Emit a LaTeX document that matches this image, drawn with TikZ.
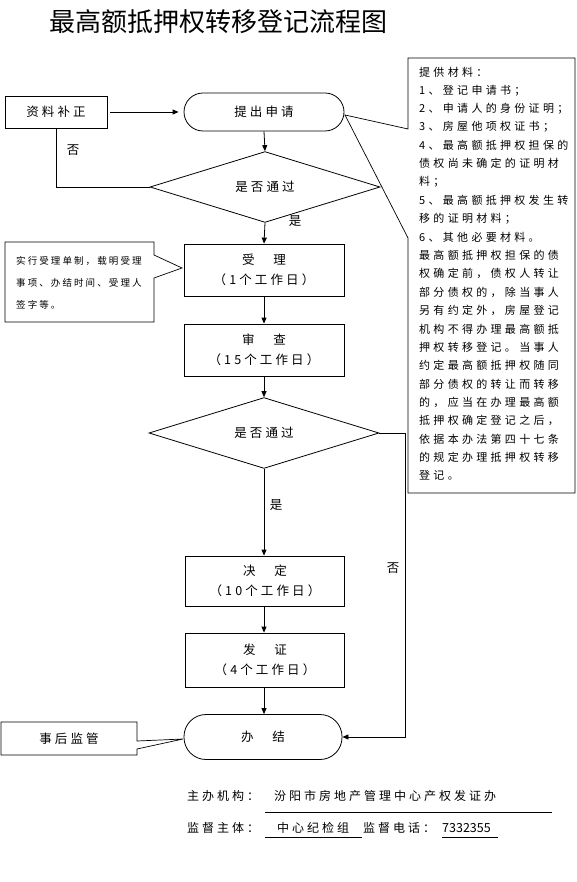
\documentclass[tikz,border=0pt]{standalone}
\usepackage{fontspec}
\setmainfont{Noto Sans CJK SC}
\newfontfamily\cjkT{Noto Sans CJK SC}
\newfontfamily\cjkB[LetterSpace=25]{Noto Sans CJK SC}
\newfontfamily\cjkR[LetterSpace=30]{Noto Sans CJK SC}
\newfontfamily\cjkL[LetterSpace=22]{Noto Sans CJK SC}
\usetikzlibrary{shapes.geometric,arrows.meta}
\newcommand{\boxfont}{\cjkB\fontsize{12.5}{20}\selectfont}
\newcommand{\rfont}{\cjkR\fontsize{11}{18}\selectfont}
\newcommand{\lfont}{\cjkL\fontsize{9.5}{14}\selectfont}
\newcommand{\botfont}{\cjkB\fontsize{12}{16}\selectfont}
\tikzset{
  ln/.style={line width=0.8pt, draw=black},
  box/.style={ln, rectangle, minimum width=160pt, minimum height=52pt, inner sep=0pt, align=center, font=\boxfont},
  term/.style={box, rounded corners=19pt, minimum height=38pt},
  dec/.style={ln, diamond, minimum width=230pt, minimum height=57pt, inner sep=0pt, font=\boxfont},
  arr/.style={ln, -{Triangle[length=6pt,width=5pt]}},
  lbl/.style={inner sep=0pt, font=\boxfont},
  rtxt/.style={anchor=west, inner sep=0pt, font=\rfont},
  ltxt/.style={anchor=west, inner sep=0pt, font=\lfont},
  btxt/.style={anchor=west, inner sep=0pt, font=\botfont},
}
\begin{document}
\begin{tikzpicture}[x=1pt,y=-1pt]
\useasboundingbox[fill=white] (0,0) rectangle (576,882);
% title
\node[anchor=west, inner sep=0pt, font=\cjkT\fontsize{26}{30}\selectfont] (title) at (49,22) {最高额抵押权转移登记流程图};
% nodes
\node[box, minimum width=102pt, minimum height=32pt] (bz) at (56,112) {资料补正};
\node[term] (sq) at (264,112) {提出申请};
\node[dec] (d1) at (265,187) {是否通过};
\node[box] (sl) at (264,270) {受　理\\（1个工作日）};
\node[box] (sc) at (264,350) {审　查\\（15个工作日）};
\node[dec] (d2) at (264,433) {是否通过};
\node[box, minimum width=159pt, minimum height=50pt] (jd) at (265,581) {决　定\\（10个工作日）};
\node[box, minimum width=159pt, minimum height=54pt] (fz) at (265,660) {发　证\\（4个工作日）};
\node[term, minimum width=158pt, minimum height=45pt, rounded corners=22pt] (bj) at (263,737) {办　结};
% connectors
\draw[arr, shorten <=3pt, shorten >=5pt] (bz.east) -- (sq.west);
\draw[arr] (sq.south) -- (d1.north);
\draw[ln] (d1.west) -| (bz.south);
\draw[arr] (d1.south) -- (sl.north);
\draw[arr] (sl.south) -- (sc.north);
\draw[arr] (sc.south) -- (d2.north);
\draw[arr] (d2.south) -- (d2.south |- jd.north);
\draw[arr] (jd.south -| d2.south) -- (d2.south |- fz.north);
\draw[arr] (fz.south -| d2.south) -- (d2.south |- bj.north);
\coordinate (rt) at (405,433);
\draw[arr] (d2.east) -- (rt) |- (bj.east);
% labels
\node[lbl] (no1) at (73,150) {否};
\node[lbl] (yes1) at (295,221) {是};
\node[lbl] (yes2) at (276,505) {是};
\node[lbl] (no2) at (393,568) {否};
% right callout
\draw[ln, line width=0.7pt] (408,58) -- (575,58) -- (575,493) -- (408,493) -- (408,238) -- (345,115) -- (408,129) -- cycle;
\foreach \t [count=\i from 0] in {提供材料：,1、登记申请书；,2、申请人的身份证明；,3、房屋他项权证书；,4、最高额抵押权担保的,债权尚未确定的证明材,料；,5、最高额抵押权发生转,移的证明材料；,6、其他必要材料。,最高额抵押权担保的债,权确定前，债权人转让,部分债权的，除当事人,另有约定外，房屋登记,机构不得办理最高额抵,押权转移登记。当事人,约定最高额抵押权随同,部分债权的转让而转移,的，应当在办理最高额,抵押权确定登记之后，,依据本办法第四十七条,的规定办理抵押权转移,登记。}
  \node[rtxt] (r\i) at (419,{72+18.35*\i}) {\t};
% left callout
\draw[ln, line width=0.7pt] (5,242) -- (154,242) -- (154,255) -- (182,268) -- (154,278) -- (154,322) -- (5,322) -- cycle;
\node[ltxt] (c1) at (16,261) {实行受理单制，载明受理};
\node[ltxt] (c2) at (16,283) {事项、办结时间、受理人};
\node[ltxt] (c3) at (16,305) {签字等。};
% bottom-left callout
\draw[ln, line width=0.7pt] (1,722) -- (137,722) -- (137,741) -- (183,739) -- (137,749) -- (137,755) -- (1,755) -- cycle;
\node[lbl] (hg) at (69,739) {事后监管};
% footer
\node[btxt] (f1) at (187,796) {主办机构：};
\node[btxt] (f2) at (274,796) {汾阳市房地产管理中心产权发证办};
\draw[line width=0.6pt] (265,812) -- (552,812);
\node[btxt] (f3) at (187,828) {监督主体：};
\node[btxt] (f4) at (277,828) {中心纪检组};
\draw[line width=0.6pt] (265,837) -- (362,837);
\node[btxt] (f5) at (363,828) {监督电话：};
\node[anchor=west, inner sep=0pt, font=\cjkT\fontsize{12.5}{16}\selectfont] (f6) at (442,828) {7332355};
\draw[line width=0.6pt] (442,837) -- (498,837);
\end{tikzpicture}
\end{document}
